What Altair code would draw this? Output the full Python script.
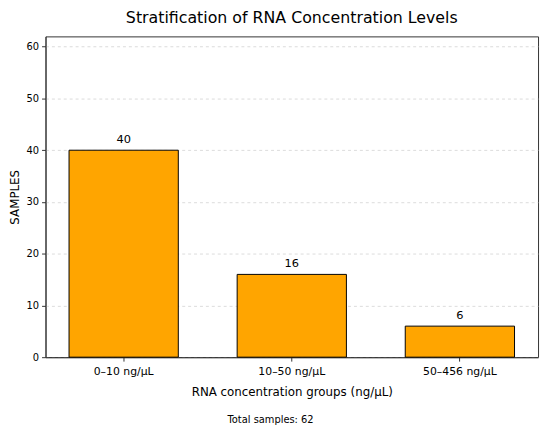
import altair as alt
import pandas as pd

categories = ["0–10 ng/µL", "10–50 ng/µL", "50–456 ng/µL"]
samples = [40, 16, 6]
y_ticks = [0, 10, 20, 30, 40, 50, 60]

df = pd.DataFrame({"group": categories, "samples": samples})

FONT = "DejaVu Sans"
W, H = 499, 325

x_enc = alt.X(
    "group:N",
    sort=categories,
    scale=alt.Scale(paddingInner=0.35, paddingOuter=0.14),
    axis=alt.Axis(
        title="RNA concentration groups (ng/µL)",
        labelAngle=0,
        labelFontSize=11,
        titleFontSize=12,
        labelPadding=5,
        titlePadding=10,
        tickSize=4,
        grid=False,
    ),
)
y_enc = alt.Y(
    "samples:Q",
    scale=alt.Scale(domain=[0, 62], nice=False),
    axis=alt.Axis(
        title="SAMPLES",
        values=y_ticks,
        labelFontSize=10,
        titleFontSize=12,
        labelPadding=3,
        titlePadding=5,
        tickSize=4,
        grid=True,
        gridDash=[3, 3],
        gridColor="#cccccc",
        gridOpacity=0.7,
    ),
)

bars = alt.Chart(df).mark_bar(
    fill="#FFA500", stroke="black", strokeWidth=1
).encode(x=x_enc, y=y_enc)

labels = alt.Chart(df).mark_text(
    baseline="alphabetic", dy=-7, fontSize=11.5, font=FONT, color="black"
).encode(x=alt.X("group:N", sort=categories), y="samples:Q", text="samples:Q")

foot = alt.Chart(df).transform_aggregate(
    total="sum(samples)"
).transform_calculate(
    label="'Total samples: ' + datum.total"
).mark_text(
    fontSize=10, font=FONT, color="black", baseline="middle", align="center"
).encode(x=alt.value(228), y=alt.value(389), text="label:N")

chart = alt.layer(bars, labels, foot).properties(
    width=W,
    height=H,
    autosize=alt.AutoSizeParams(type="none"),
    padding={"left": 38, "top": 26, "right": 4, "bottom": 70},
    title=alt.TitleParams(
        "Stratification of RNA Concentration Levels",
        fontSize=16,
        fontWeight="normal",
        font=FONT,
        color="black",
        anchor="middle",
        frame="group",
        offset=11,
    ),
).configure(font=FONT).configure_view(
    stroke="#333333", strokeWidth=1
).configure_axis(
    domainColor="#333333",
    tickColor="#333333",
    labelColor="black",
    titleColor="black",
    labelFont=FONT,
    titleFont=FONT,
    titleFontWeight="normal",
)

chart.save("out.html", embed_options={"renderer": "svg", "actions": False})
